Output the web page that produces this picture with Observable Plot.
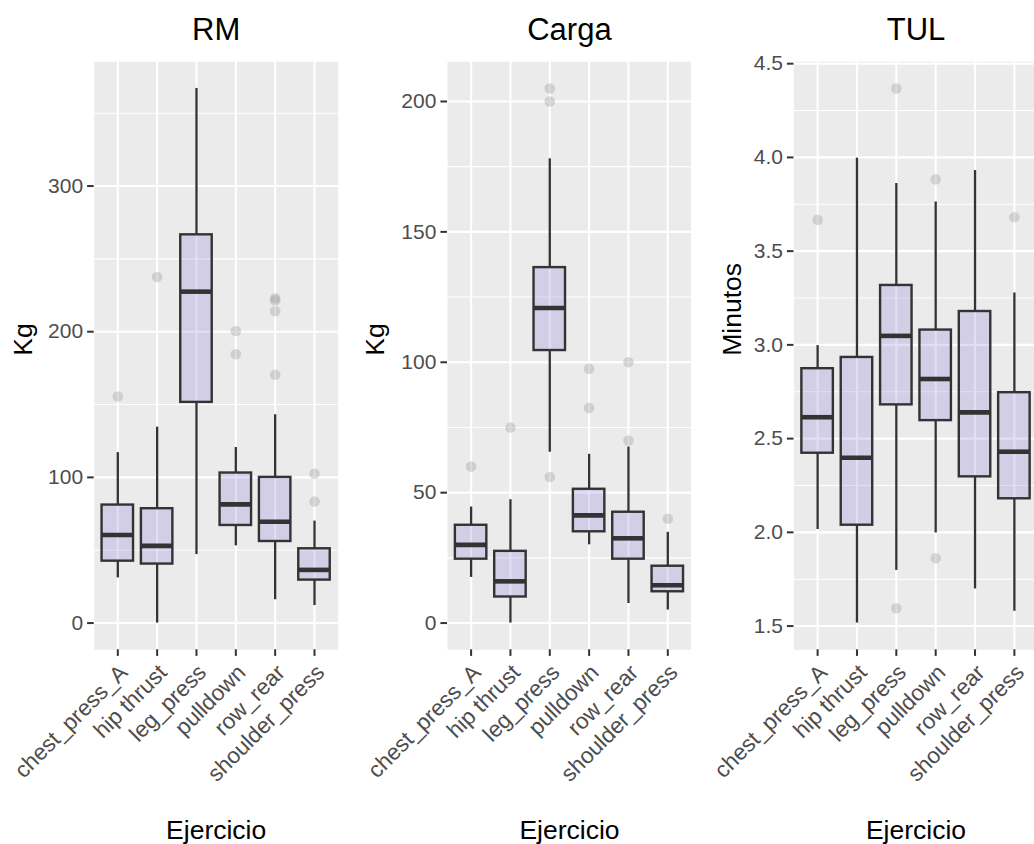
<!DOCTYPE html>
<html>
<head>
<meta charset="utf-8">
<script src="https://cdn.jsdelivr.net/npm/d3@7"></script>
<script src="https://cdn.jsdelivr.net/npm/@observablehq/plot@0.6"></script>
<style>
  html, body { margin: 0; padding: 0; background: white; overflow: hidden; }
  #wrap { position: relative; width: 1034px; height: 844px; overflow: hidden; display: flex; }
  #wrap svg { flex: none; display: block; max-width: none; }
</style>
</head>
<body>
<div id="wrap"></div>
<script>
const categories = ["chest_press_A", "hip thrust", "leg_press", "pulldown", "row_rear", "shoulder_press"];
const xTitle = "Ejercicio";

// RM (Kg)
const rmLow  = [31, 0, 47, 53, 16, 12];
const rmQ1   = [42.5, 40.5, 151.5, 67, 56, 29.5];
const rmMed  = [60.5, 53, 227.5, 81.5, 69.5, 36.5];
const rmQ3   = [81, 78.5, 266.5, 103, 100, 51];
const rmHigh = [117, 134.5, 367, 120.5, 143, 70];
const rmOutCat = ["chest_press_A", "hip thrust", "pulldown", "pulldown", "row_rear", "row_rear", "row_rear", "row_rear", "shoulder_press", "shoulder_press"];
const rmOutVal = [155.5, 237.5, 200.5, 184.5, 223, 221.5, 214, 170.5, 102.5, 83.5];
const rmTicks = [0, 100, 200, 300];
const rmMinor = [50, 150, 250, 350];

// Carga (Kg)
const cgLow  = [17.5, 0, 65.5, 30, 7.5, 5];
const cgQ1   = [24.5, 10, 104.5, 35, 24.5, 12];
const cgMed  = [30, 16, 120.8, 41.3, 32.5, 14.5];
const cgQ3   = [37.5, 27.5, 136.3, 51.3, 42.5, 21.8];
const cgHigh = [44.5, 47.3, 178, 64.7, 67.5, 34.8];
const cgOutCat = ["chest_press_A", "hip thrust", "leg_press", "leg_press", "leg_press", "pulldown", "pulldown", "row_rear", "row_rear", "shoulder_press"];
const cgOutVal = [60, 75, 205, 200, 56, 97.5, 82.5, 100, 70, 40];
const cgTicks = [0, 50, 100, 150, 200];
const cgMinor = [25, 75, 125, 175];

// TUL (Minutos)
const tuLow  = [2.015, 1.516, 1.797, 1.997, 1.698, 1.579];
const tuQ1   = [2.422, 2.038, 2.68, 2.596, 2.296, 2.179];
const tuMed  = [2.614, 2.398, 3.048, 2.818, 2.64, 2.43];
const tuQ3   = [2.873, 2.933, 3.317, 3.079, 3.178, 2.745];
const tuHigh = [2.996, 3.996, 3.861, 3.762, 3.93, 3.277];
const tuOutCat = ["chest_press_A", "leg_press", "leg_press", "pulldown", "pulldown", "shoulder_press"];
const tuOutVal = [3.667, 4.368, 1.595, 3.883, 1.862, 3.681];
const tuTicks = [1.5, 2.0, 2.5, 3.0, 3.5, 4.0, 4.5];
const tuMinor = [1.75, 2.25, 2.75, 3.25, 3.75, 4.25];

const FONT = "'Liberation Sans', Arial, Helvetica, sans-serif";
const INK = "#333333";

function panel(o) {
  const boxes = categories.map((c, i) => ({cat: c, low: o.low[i], q1: o.q1[i], med: o.med[i], q3: o.q3[i], high: o.high[i]}));
  const outs = o.outCat.map((c, i) => ({cat: c, v: o.outVal[i]}));
  const [lo, hi] = d3.extent([...o.low, ...o.high, ...o.outVal]);
  const pad = (hi - lo) * 0.05;
  return Plot.plot({
    width: o.width,
    height: 844,
    marginLeft: o.marginLeft,
    marginRight: o.marginRight,
    marginTop: 61.2,
    marginBottom: 194.7,
    style: {fontFamily: FONT, background: "white", overflow: "visible"},
    x: {type: "band", domain: categories, paddingInner: 0.2, paddingOuter: 0.2, round: false, label: null},
    y: {domain: [lo - pad, hi + pad], label: null},
    marks: [
      Plot.frame({fill: "#EBEBEB", stroke: "none"}),
      Plot.gridY(o.minor, {stroke: "white", strokeOpacity: 1, strokeWidth: 1.1}),
      Plot.gridY(o.ticks, {stroke: "white", strokeOpacity: 1, strokeWidth: 2.1}),
      Plot.gridX(categories, {stroke: "white", strokeOpacity: 1, strokeWidth: 2.1}),
      Plot.dot(outs, {x: "cat", y: "v", r: 5.3, fill: "#8c8c8c", fillOpacity: 0.3, stroke: "none"}),
      Plot.ruleX(boxes, {x: "cat", y1: "low", y2: "q1", stroke: INK, strokeWidth: 2.3}),
      Plot.ruleX(boxes, {x: "cat", y1: "q3", y2: "high", stroke: INK, strokeWidth: 2.3}),
      Plot.barY(boxes, {x: "cat", y1: "q1", y2: "q3", fill: "slateblue", fillOpacity: 0.2, stroke: INK, strokeWidth: 2.4}),
      Plot.tickY(boxes, {x: "cat", y: "med", stroke: INK, strokeWidth: 4.6}),
      Plot.axisY(o.ticks, {tickSize: 6.6, tickPadding: 4.5, fontSize: 21, fill: "#4D4D4D", stroke: INK, strokeWidth: 2, tickFormat: o.tickFormat, label: null}),
      Plot.axisX({tickSize: 6.6, tickFormat: () => "", stroke: INK, strokeWidth: 2, label: null}),
      Plot.axisX({tickSize: 0, tickPadding: 19, dx: 6, tickRotate: -45, fontSize: 22.5, fill: "#4D4D4D", label: null}),
      Plot.text([o.title], {frameAnchor: "top", dy: -21.7, lineAnchor: "bottom", fontSize: 31, fill: "black"}),
      Plot.text([o.ylabel], {frameAnchor: "left", rotate: -90, dx: -o.labelOffset, lineAnchor: "top", fontSize: 26.5, fill: "black"}),
      Plot.text([xTitle], {frameAnchor: "bottom", dy: 189, lineAnchor: "bottom", fontSize: 26.5, fill: "black"})
    ]
  });
}

const wrap = document.getElementById("wrap");
wrap.append(panel({
  title: "RM", ylabel: "Kg", low: rmLow, q1: rmQ1, med: rmMed, q3: rmQ3, high: rmHigh,
  outCat: rmOutCat, outVal: rmOutVal, ticks: rmTicks, minor: rmMinor, tickFormat: d3.format("d"),
  width: 345, marginLeft: 93.7, marginRight: 7.4, labelOffset: 81
}));
wrap.append(panel({
  title: "Carga", ylabel: "Kg", low: cgLow, q1: cgQ1, med: cgMed, q3: cgQ3, high: cgHigh,
  outCat: cgOutCat, outVal: cgOutVal, ticks: cgTicks, minor: cgMinor, tickFormat: d3.format("d"),
  width: 346, marginLeft: 102, marginRight: 0.1, labelOffset: 82
}));
wrap.append(panel({
  title: "TUL", ylabel: "Minutos", low: tuLow, q1: tuQ1, med: tuMed, q3: tuQ3, high: tuHigh,
  outCat: tuOutCat, outVal: tuOutVal, ticks: tuTicks, minor: tuMinor, tickFormat: d3.format(".1f"),
  width: 347, marginLeft: 102.5, marginRight: 0.5, labelOffset: 72
}));
</script>
</body>
</html>
